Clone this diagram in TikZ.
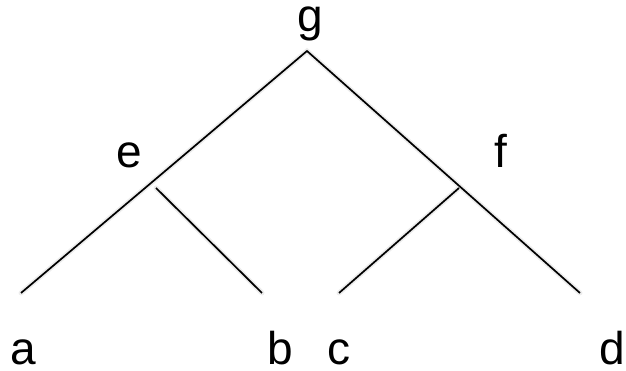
\documentclass[tikz,border=0pt]{standalone}
\usepackage{fontspec}
\setmainfont{Liberation Sans}
\begin{document}
\begin{tikzpicture}[x=1pt,y=1pt,
  lbl/.style={anchor=base,inner sep=0pt,font=\fontsize{46}{50}\selectfont},
  edge/.style={line width=1.7pt,black},
  shade/.style={line width=5pt,black!7,line cap=round}]
\useasboundingbox (0,0) rectangle (626,371);
\coordinate (apex) at (307,320);
\coordinate (la) at (21,78);
\coordinate (lb) at (262,78);
\coordinate (lc) at (339,78);
\coordinate (ld) at (580,78);
\coordinate (be) at (156,183);
\coordinate (bf) at (459,183);
% faint shadow
\begin{scope}[shift={(3,-4)}]
\draw[shade] (la) -- (apex) -- (ld);
\draw[shade] (be) -- (lb);
\draw[shade] (bf) -- (lc);
\end{scope}
\draw[edge] (la) -- (apex) -- (ld);
\draw[edge] (be) -- (lb);
\draw[edge] (bf) -- (lc);
\node[lbl] (g) at (310,339) {g};
\node[lbl] (e) at (129,203) {e};
\node[lbl] (f) at (501,203) {f};
\node[lbl] (a) at (23,6) {a};
\node[lbl] (b) at (280,6) {b};
\node[lbl] (c) at (339,6) {c};
\node[lbl] (d) at (612,6) {d};
\end{tikzpicture}
\end{document}
